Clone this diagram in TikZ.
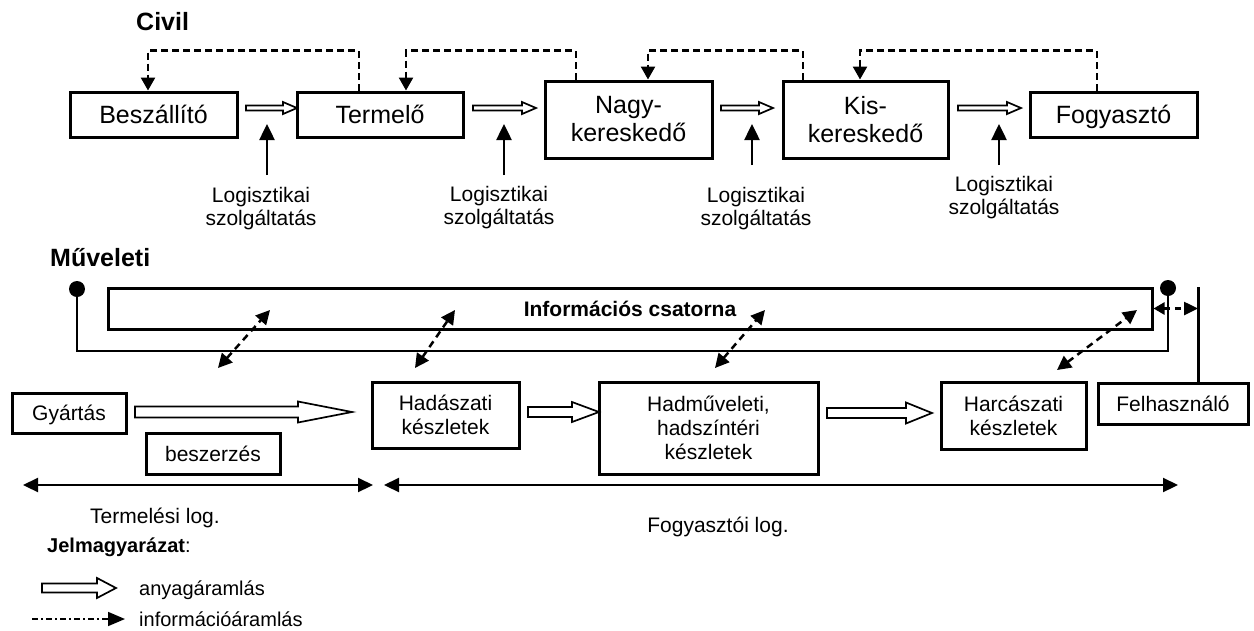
\documentclass[tikz,border=0pt]{standalone}
\usepackage{fontspec}
\setmainfont{Liberation Sans}
\usetikzlibrary{arrows.meta,calc}
\newcommand\HArrow[5]{\draw[harrow] let \p1=(#1), \p2=(#2) in ({\x1},{\y1+#3}) -- ({\x2-#5},{\y1+#3}) -- ({\x2-#5},{\y1+#4}) -- ({\x2},{\y1}) -- ({\x2-#5},{\y1-#4}) -- ({\x2-#5},{\y1-#3}) -- ({\x1},{\y1-#3}) -- cycle;}
\begin{document}
\begin{tikzpicture}[x=1pt,y=-1pt,
  box/.style={draw, line width=3pt, inner sep=0pt, align=center},
  tbox/.style={box, font=\fontsize{25}{28}\selectfont},
  tbox1/.style={tbox, text height=18pt, text depth=0pt},
  bbox/.style={box, font=\fontsize{21}{24}\selectfont},
  bbox1/.style={bbox, text height=15pt, text depth=0pt},
  fb/.style={line width=2.5pt, dash pattern=on 7pt off 4pt, -{Triangle[width=14pt,length=13pt]}},
  info/.style={line width=2.5pt, dash pattern=on 7pt off 5pt, {Triangle[width=14pt,length=14pt]}-{Triangle[width=14pt,length=14pt]}},
  infosmall/.style={line width=2.5pt, dash pattern=on 6pt off 5pt, {Triangle[width=12pt,length=11pt]}-{Triangle[width=13pt,length=14pt]}},
  harrow/.style={draw, fill=white, line width=1.7pt, line join=miter},
  lsa/.style={line width=2.5pt, -{Triangle[width=15pt,length=16pt]}},
  lbl/.style={font=\fontsize{21}{23}\selectfont, align=center, inner sep=0pt, anchor=north},
  span/.style={line width=2.2pt, {Triangle[width=14pt,length=15pt]}-{Triangle[width=14pt,length=15pt]}},
  txt/.style={inner sep=0pt, anchor=base west, font=\fontsize{20}{24}\selectfont},
  title/.style={inner sep=0pt, anchor=base west, font=\bfseries\fontsize{25}{28}\selectfont},
  bus/.style={line width=2.5pt},
]
\useasboundingbox (0,0) rectangle (1254,630);

% titles
\node[title] (civil) at (136,30) {Civil};
\node[title] (muv) at (50,266) {Műveleti};

% top boxes
\node[tbox1, minimum width=167, minimum height=45] (besz) at (153.5,114.5) {Beszállító};
\node[tbox1, minimum width=166, minimum height=45] (term) at (380,114.5) {Termelő};
\node[tbox, minimum width=167, minimum height=77] (nagy) at (628.5,119.5) {Nagy-\\kereskedő};
\node[tbox, minimum width=165, minimum height=77] (kis) at (865.5,119.5) {Kis-\\kereskedő};
\node[tbox1, minimum width=167, minimum height=45] (fogy) at (1113.5,114.5) {Fogyasztó};

% top material arrows
\coordinate (a1s) at (246,108); \coordinate (a1e) at (297,108);
\coordinate (a2s) at (473,108); \coordinate (a2e) at (536,108);
\coordinate (a3s) at (721,108); \coordinate (a3e) at (773,108);
\coordinate (a4s) at (958,108); \coordinate (a4e) at (1021,108);
\HArrow{a1s}{a1e}{2.5pt}{6pt}{14pt}
\HArrow{a2s}{a2e}{2.5pt}{6pt}{14pt}
\HArrow{a3s}{a3e}{2.5pt}{6pt}{14pt}
\HArrow{a4s}{a4e}{2.5pt}{6pt}{14pt}

% feedback (dashed)
\draw[fb] ([xshift=-21pt]term.north) -- ++(0,-40) -| ([xshift=-5.5pt]besz.north);
\draw[fb] ([xshift=-52.5pt]nagy.north) -- ++(0,-29) -| ([xshift=26pt]term.north);
\draw[fb] ([xshift=-62.5pt]kis.north) -- ++(0,-29) -| ([xshift=19.5pt]nagy.north);
\draw[fb] ([xshift=-16.5pt]fogy.north) -- ++(0,-40) -| ([xshift=-5.5pt]kis.north);

% logistic services
\node[lbl] (l1) at (261,187) {Logisztikai\\szolgáltatás};
\node[lbl] (l2) at (499,186) {Logisztikai\\szolgáltatás};
\node[lbl] (l3) at (756,187) {Logisztikai\\szolgáltatás};
\node[lbl] (l4) at (1004,176) {Logisztikai\\szolgáltatás};
\coordinate (t1) at (267,124); \coordinate (s1) at (267,175);
\coordinate (t2) at (504,124); \coordinate (s2) at (504,175);
\coordinate (t3) at (752,124); \coordinate (s3) at (752,165);
\coordinate (t4) at (999,124); \coordinate (s4) at (999,165);
\draw[lsa] (s1) -- (t1);
\draw[lsa] (s2) -- (t2);
\draw[lsa] (s3) -- (t3);
\draw[lsa] (s4) -- (t4);

% information channel
\node[draw, line width=3pt, inner sep=0pt, minimum width=1044, minimum height=41,
      font=\bfseries\fontsize{21}{24}\selectfont, text height=15pt, text depth=0pt] (chan) at (630,308.5) {Információs csatorna};
\coordinate (pinL) at (77,289);
\coordinate (pinR) at (1168,288);
\coordinate (busL) at (77,351);
\coordinate (busR) at (1168,351);
\draw[bus] (pinL) -- (busL) -- (busR) -- (pinR);
\fill (pinL) circle[radius=8pt];
\fill (pinR) circle[radius=8pt];

% bottom boxes
\node[bbox1, minimum width=114, minimum height=40] (gyar) at (69,413) {Gyártás};
\node[bbox1, minimum width=134, minimum height=41] (besz2) at (213,453.5) {beszerzés};
\node[bbox, minimum width=147, minimum height=66] (hadasz) at (445.5,415) {Hadászati\\készletek};
\node[bbox, minimum width=219, minimum height=92] (hadmuv) at (708.5,428) {Hadműveleti,\\hadszíntéri\\készletek};
\node[bbox, minimum width=145, minimum height=67] (harc) at (1013.5,415.5) {Harcászati\\készletek};
\node[bbox1, minimum width=150, minimum height=41] (felh) at (1173,403.5) {Felhasználó};

\coordinate (ftop) at (1198,287);
\draw[line width=3pt] (felh.north -| ftop) -- (ftop);
\draw[infosmall] (chan.east) -- (chan.east -| ftop);

% information arrows
\coordinate (d1a) at (218,368); \coordinate (d1b) at (270,310);
\coordinate (d2a) at (415,368); \coordinate (d2b) at (455,310);
\coordinate (d3a) at (715,368); \coordinate (d3b) at (765,310);
\coordinate (d4a) at (1057,370); \coordinate (d4b) at (1137,310);
\draw[info] (d1a) -- (d1b);
\draw[info] (d2a) -- (d2b);
\draw[info] (d3a) -- (d3b);
\draw[info] (d4a) -- (d4b);

% bottom material arrows
\coordinate (b1s) at (135,412); \coordinate (b1e) at (352,412);
\coordinate (b2s) at (528,412); \coordinate (b2e) at (599,412);
\coordinate (b3s) at (827,413); \coordinate (b3e) at (932,413);
\HArrow{b1s}{b1e}{5.5pt}{10.5pt}{54pt}
\HArrow{b2s}{b2e}{5pt}{10pt}{27pt}
\HArrow{b3s}{b3e}{5pt}{10.5pt}{26pt}

% spans
\coordinate (tl) at (23,485); \coordinate (tr) at (373,485);
\coordinate (fl) at (384,485); \coordinate (fr) at (1178,485);
\draw[span] (tl) -- (tr);
\draw[span] (fl) -- (fr);
\node[inner sep=0pt, anchor=base, font=\fontsize{21}{24}\selectfont] (tlab) at (155,523) {Termelési log.};
\node[inner sep=0pt, anchor=base, font=\fontsize{21}{24}\selectfont] (flab) at (718,532) {Fogyasztói log.};

% legend
\node[txt] (jel) at (47,552) {\textbf{Jelmagyarázat}:};
\node[txt] (lg1) at (139,595) {anyagáramlás};
\node[txt] (lg2) at (139,626) {információáramlás};
\coordinate (ls) at (42,588); \coordinate (le) at (116,588);
\HArrow{ls}{le}{4.5pt}{10pt}{19pt}
\coordinate (is) at (32,619); \coordinate (ie) at (125,619);
\draw[line width=1.7pt, dash pattern=on 6pt off 3pt on 2pt off 3pt, -{Triangle[width=14pt,length=17pt]}] (is) -- (ie);
\end{tikzpicture}
\end{document}
